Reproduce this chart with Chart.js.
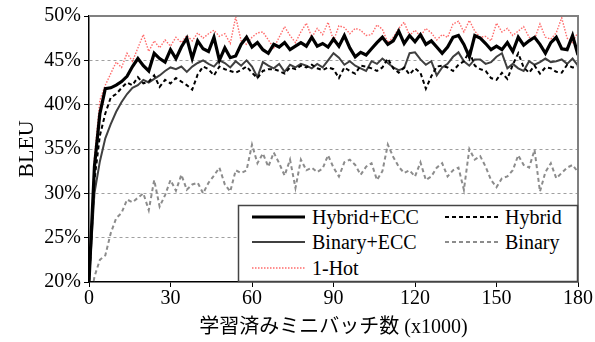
<!DOCTYPE html>
<html>
<head>
<meta charset="utf-8">
<script src="https://cdn.jsdelivr.net/npm/chart.js@4/dist/chart.umd.min.js"></script>
<style>
  html, body { margin: 0; padding: 0; background: #fff; }
  #wrap { position: relative; width: 595px; height: 342px; }
  #legend { position: absolute; left: 0; top: 0; pointer-events: none; }
  #legend text { font-family: 'Liberation Serif', 'Times New Roman', serif; font-size: 20px; fill: #000; }
</style>
</head>
<body>
<div id="wrap">
  <canvas id="c" width="595" height="342"></canvas>
  <svg id="legend" width="595" height="342">
    <rect x="238.5" y="205.5" width="339" height="76" fill="#fff" stroke="#444" stroke-width="1.5"/>
    <line x1="252" y1="217" x2="305" y2="217" stroke="#000" stroke-width="3.2"/>
    <text x="312" y="224">Hybrid+ECC</text>
    <line x1="445" y1="217" x2="500" y2="217" stroke="#000" stroke-width="2" stroke-dasharray="4 3"/>
    <text x="505" y="224">Hybrid</text>
    <line x1="252" y1="242" x2="305" y2="242" stroke="#404040" stroke-width="2"/>
    <text x="312" y="249">Binary+ECC</text>
    <line x1="445" y1="242" x2="500" y2="242" stroke="#8c8c8c" stroke-width="2" stroke-dasharray="4 3"/>
    <text x="505" y="249">Binary</text>
    <line x1="252" y1="268" x2="305" y2="268" stroke="#ff6b6b" stroke-width="1.4" stroke-dasharray="1.5 1.5"/>
    <text x="312" y="275">1-Hot</text>
  </svg>
</div>
<script>
// minibatches trained (x1000)
const steps = [0, 2, 4, 6, 8, 10, 12, 14, 16, 18, 20, 22, 24, 26, 28, 30, 32, 34, 36, 38,
  40, 42, 44, 46, 48, 50, 52, 54, 56, 58, 60, 62, 64, 66, 68, 70, 72, 74, 76, 78,
  80, 82, 84, 86, 88, 90, 92, 94, 96, 98, 100, 102, 104, 106, 108, 110, 112, 114, 116, 118,
  120, 122, 124, 126, 128, 130, 132, 134, 136, 138, 140, 142, 144, 146, 148, 150, 152, 154, 156, 158,
  160, 162, 164, 166, 168, 170, 172, 174, 176, 178, 180];

// BLEU (%) per series
const hybridEcc = [20, 33, 39, 41.8, 41.9, 42.2, 42.6, 43.2, 44.3, 45.2, 44.4, 43.8, 45.8, 45.2, 44.8, 46.2, 45.2, 46.5, 47.5, 45.2,
  47.2, 46.3, 46.0, 47.6, 45.0, 46.4, 45.3, 45.5, 46.8, 47.6, 46.5, 47.0, 46.2, 45.8, 46.8, 46.5, 47.0, 46.2, 46.6, 47.0,
  46.6, 47.6, 46.6, 46.9, 46.5, 47.4, 46.6, 47.8, 46.4, 45.4, 45.9, 45.6, 46.3, 47.0, 47.6, 46.8, 47.2, 48.3, 46.9, 47.8,
  47.1, 47.9, 46.8, 47.2, 46.5, 45.8, 46.5, 47.6, 47.8, 46.8, 45.4, 47.8, 47.5, 46.9, 46.2, 46.6, 46.2, 47.0, 46.0, 47.6,
  46.7, 47.2, 47.6, 46.8, 45.8, 47.0, 47.6, 46.3, 46.2, 47.8, 45.6];

const hybrid = [20, 31.5, 36.5, 39.0, 40.8, 41.2, 41.9, 42.5, 42.2, 43.1, 42.4, 42.6, 43.3, 42.0, 42.8, 42.4, 43.0, 42.6, 42.2, 41.7,
  43.4, 44.3, 44.0, 43.3, 44.3, 44.0, 43.8, 43.6, 43.9, 44.3, 43.6, 43.0, 43.8, 44.0, 44.0, 43.8, 43.5, 44.2, 44.0, 44.4,
  44.2, 44.5, 44.1, 43.9, 44.2, 44.0, 43.0, 44.2, 43.8, 43.5, 44.4, 44.3, 44.1, 43.8, 44.2, 45.2, 44.1, 43.6, 44.2, 43.4,
  44.1, 43.6, 41.8, 43.2, 44.3, 44.4, 44.2, 43.8, 44.5, 44.9, 46.0, 44.4, 44.0, 43.8, 43.0, 42.8, 43.6, 42.9, 44.5, 45.8,
  44.2, 43.6, 44.4, 43.5, 44.2, 44.1, 43.7, 43.6, 44.5, 44.2, 44.3];

const binaryEcc = [20, 30, 33.6, 36.2, 37.8, 39.2, 40.3, 41.2, 41.9, 42.2, 42.8, 42.5, 42.9, 43.3, 43.8, 44.2, 44.0, 44.3, 43.7, 44.3,
  44.7, 45.0, 44.6, 44.3, 45.0, 44.7, 44.2, 44.9, 44.4, 45.0, 44.3, 43.1, 44.8, 44.4, 44.1, 44.6, 43.7, 44.5, 44.2, 44.6,
  44.4, 44.1, 44.6, 44.2, 45.0, 45.8, 45.3, 44.5, 44.9, 44.4, 44.1, 43.8, 44.9, 44.6, 45.2, 44.7, 44.2, 43.9, 44.1, 45.8,
  45.9, 45.1, 44.5, 44.9, 43.3, 44.2, 44.6, 45.4, 45.9, 44.9, 44.4, 45.1, 45.1, 44.6, 44.8, 45.4, 45.8, 44.1, 44.6, 44.1,
  43.8, 44.9, 44.5, 44.8, 45.2, 44.8, 44.9, 45.1, 44.6, 45.2, 44.4];

const binary = [17, 20.6, 22.5, 23.0, 25.5, 27.2, 27.8, 29.3, 29.0, 29.5, 30.0, 28.1, 31.5, 28.5, 29.8, 31.5, 30.3, 32.1, 30.4, 31.0,
  31.2, 30.0, 31.2, 32.0, 32.9, 31.0, 30.2, 32.6, 32.3, 32.6, 35.5, 33.4, 34.5, 33.0, 34.6, 33.4, 32.0, 33.8, 30.6, 33.8,
  32.6, 32.9, 32.4, 32.8, 34.3, 32.9, 31.9, 33.5, 33.8, 33.2, 32.1, 33.0, 33.4, 31.5, 32.5, 35.5, 34.1, 33.0, 32.3, 32.6,
  31.9, 33.5, 31.5, 31.9, 32.9, 33.4, 31.9, 32.6, 32.9, 30.4, 35.0, 33.8, 34.2, 33.0, 31.5, 30.7, 31.7, 31.9, 32.6, 34.3,
  33.2, 32.9, 34.9, 30.2, 32.4, 33.4, 31.7, 32.3, 32.9, 33.2, 32.4];

const oneHot = [20, 34, 40.5, 42.2, 43.5, 44.8, 44.2, 45.8, 44.9, 46.4, 47.9, 46.0, 47.2, 46.4, 47.3, 46.6, 47.6, 47.0, 47.8, 47.2,
  48.1, 47.5, 48.0, 48.4, 47.7, 48.0, 46.9, 49.9, 47.2, 46.8, 47.6, 48.1, 48.2, 47.3, 46.4, 47.6, 48.8, 47.8, 47.0, 48.2,
  49.2, 47.6, 48.6, 47.9, 49.3, 47.2, 48.9, 48.7, 48.0, 48.6, 48.4, 47.8, 47.9, 49.0, 48.5, 47.0, 47.6, 48.6, 49.3, 47.8,
  48.4, 47.7, 48.6, 48.1, 47.3, 47.9, 47.6, 49.1, 49.4, 48.2, 49.5, 48.3, 47.6, 47.7, 47.2, 49.2, 48.2, 48.6, 47.8, 48.3,
  48.8, 47.6, 47.4, 49.1, 47.6, 47.4, 48.1, 49.8, 47.5, 47.0, 48.2];

const yTicks = [20, 25, 30, 35, 40, 45, 50];
const xTicks = [0, 30, 60, 90, 120, 150, 180];

const SERIF = "'Liberation Serif', 'Times New Roman', 'Noto Sans CJK JP', serif";

function pts(vals) {
  return vals.map((v, i) => ({ x: steps[i], y: v }));
}

// top / right frame is lighter than the axes
const frame = {
  id: 'frame',
  afterDraw(c) {
    const { ctx, chartArea: a } = c;
    ctx.save();
    ctx.strokeStyle = '#808080';
    ctx.lineWidth = 2;
    ctx.beginPath();
    ctx.moveTo(a.left, a.top);
    ctx.lineTo(a.right, a.top);
    ctx.lineTo(a.right, a.bottom);
    ctx.stroke();
    ctx.restore();
  },
};

new Chart(document.getElementById('c'), {
  type: 'line',
  data: {
    datasets: [
      { label: 'Hybrid+ECC', data: pts(hybridEcc), borderColor: '#000', borderWidth: 3.2 },
      { label: 'Hybrid', data: pts(hybrid), borderColor: '#000', borderWidth: 2, borderDash: [4, 3] },
      { label: 'Binary+ECC', data: pts(binaryEcc), borderColor: '#404040', borderWidth: 2 },
      { label: 'Binary', data: pts(binary), borderColor: '#8c8c8c', borderWidth: 2, borderDash: [4, 3] },
      { label: '1-Hot', data: pts(oneHot), borderColor: '#ff6b6b', borderWidth: 1.4, borderDash: [1.5, 1.5] },
    ].map((d) => Object.assign(d, { pointRadius: 0, tension: 0, fill: false })),
  },
  options: {
    responsive: false, animation: false, devicePixelRatio: 1,
    layout: { padding: { top: 16, right: 17, left: 0, bottom: 0 } },
    plugins: { legend: { display: false }, tooltip: { enabled: false } },
    scales: {
      x: {
        type: 'linear', min: 0, max: 180,
        afterFit: (s) => { s.height = 60; },
        afterBuildTicks: (s) => { s.ticks = xTicks.map((v) => ({ value: v })); },
        grid: { drawOnChartArea: false, color: '#000', tickColor: '#000', tickLength: 5, tickWidth: 1 },
        border: { color: '#000', width: 1.5 },
        ticks: { color: '#000', font: { family: SERIF, size: 20 }, padding: 0, maxRotation: 0 },
        title: { display: true, text: '学習済みミニバッチ数 (x1000)', color: '#000', font: { family: SERIF, size: 20 }, padding: { top: 0, bottom: 2 } },
      },
      y: {
        min: 20, max: 50,
        afterFit: (s) => { s.width = 89; },
        afterBuildTicks: (s) => { s.ticks = yTicks.map((v) => ({ value: v })); },
        grid: {
          color: (ctx) => (ctx.tick && (ctx.tick.value === 20 || ctx.tick.value === 50)) ? 'rgba(0,0,0,0)' : '#a0a0a0',
          lineWidth: 1, tickColor: '#000', tickLength: 5, tickWidth: 1, tickBorderDash: [],
        },
        border: { color: '#000', width: 1.5, dash: [3, 3] },
        ticks: { color: '#000', font: { family: SERIF, size: 20 }, padding: 3, callback: (v) => v + '%' },
        title: { display: true, text: 'BLEU', color: '#000', font: { family: SERIF, size: 22 }, padding: { top: 14, bottom: 0 } },
      },
    },
  },
  plugins: [frame],
});
</script>
</body>
</html>
